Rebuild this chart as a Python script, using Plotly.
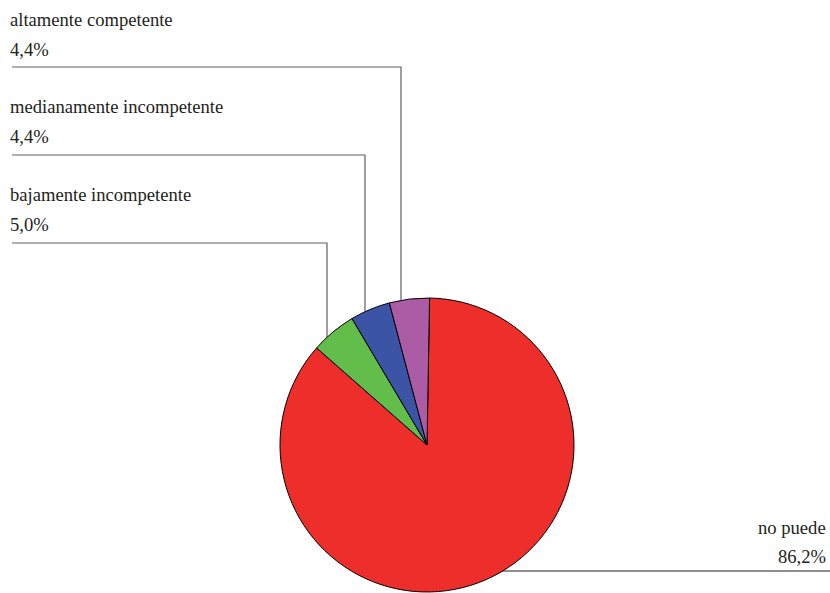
import plotly.graph_objects as go

# Survey shares (percent), in drawing order (clockwise from the top)
categories = ["no puede", "bajamente incompetente", "medianamente incompetente", "altamente competente"]
values = [86.2, 5.0, 4.4, 4.4]
value_labels = ["86,2%", "5,0%", "4,4%", "4,4%"]
colors = ["#EE2E2B", "#62BD4A", "#3B54A5", "#AC5BA5"]

W, H = 830, 593
CX, CY, R = 427, 445, 147  # pie centre and radius in pixels


def px(x):
    return x / W


def py(y):
    return 1 - y / H


fig = go.Figure(
    go.Pie(
        labels=categories,
        values=values,
        sort=False,
        direction="clockwise",
        rotation=1,
        textinfo="none",
        hoverinfo="label+percent",
        marker=dict(colors=colors, line=dict(color="#000000", width=1)),
        domain=dict(x=[px(CX - R), px(CX + R)], y=[py(CY + R), py(CY - R)]),
        showlegend=False,
    )
)

line_style = dict(color="#5F5F5F", width=1.2)


def label(x, y, text, anchor):
    return dict(x=px(x), y=py(y), xref="paper", yref="paper", text=text,
                showarrow=False, xanchor=anchor, yanchor="middle",
                font=dict(family="Liberation Serif", size=18.6, color="#231F20"))


annotations = []
shapes = []

# Left-hand labels with elbow leaders down to the small slices
left_items = [
    # (category index, label row y, leader y, leader x)
    (3, 20, 67, 401),
    (2, 107, 155, 365),
    (1, 194, 243, 327),
]
for idx, ty, ly, lx in left_items:
    annotations.append(label(8, ty, categories[idx], "left"))
    annotations.append(label(8, ty + 30, value_labels[idx], "left"))
    end_y = CY - (R ** 2 - (lx - CX) ** 2) ** 0.5
    shapes.append(dict(type="path", xref="paper", yref="paper",
                       path=f"M {px(12)},{py(ly)} L {px(lx)},{py(ly)} L {px(lx)},{py(end_y)}",
                       line=line_style, layer="below"))

# Right-hand label for the large slice
annotations.append(label(828, 527, categories[0], "right"))
annotations.append(label(828, 556, value_labels[0], "right"))
ry = 571
start_x = CX + (R ** 2 - (ry - CY) ** 2) ** 0.5
shapes.append(dict(type="line", xref="paper", yref="paper",
                   x0=px(start_x - 4), y0=py(ry), x1=px(830), y1=py(ry),
                   line=dict(color="#231F20", width=1.2), layer="below"))

fig.update_layout(
    width=W,
    height=H,
    margin=dict(l=0, r=0, t=0, b=0),
    paper_bgcolor="white",
    plot_bgcolor="white",
    annotations=annotations,
    shapes=shapes,
)

fig.write_html("out.html")
